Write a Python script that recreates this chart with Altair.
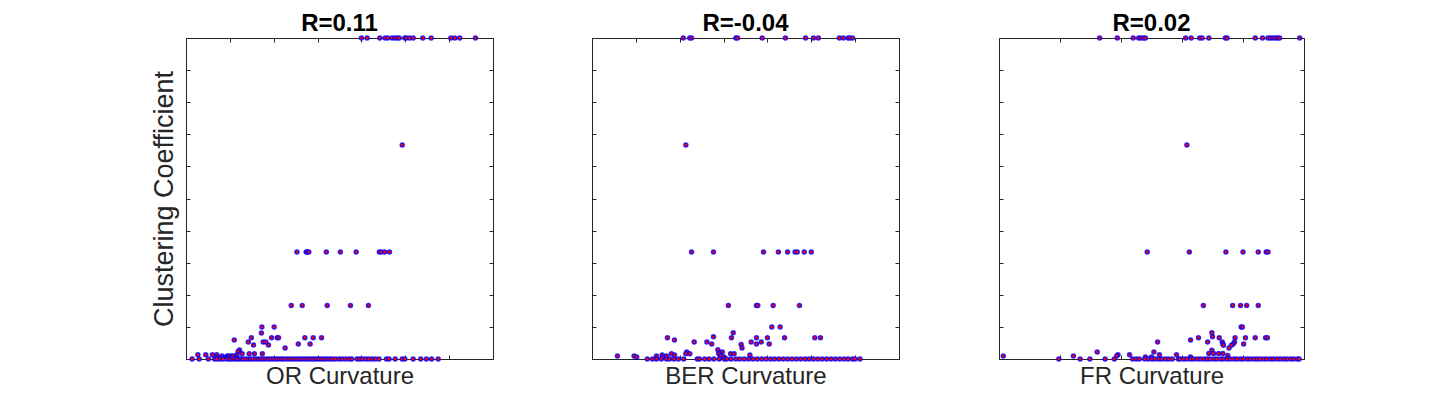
import altair as alt
import pandas as pd

FONT = "Liberation Sans"
INK = "#262626"

# ---- OR curvature panel: (clustering coefficient, [curvature values]) ----
or_groups = [
    (1.0, [4.00, 4.13, 4.42, 4.54, 4.60, 4.70, 4.76, 4.82, 4.86, 4.99, 5.02, 5.10, 5.18, 5.40, 5.59, 6.04, 6.13, 6.24, 6.60]),
    (0.667, [4.93]),
    (0.333, [2.53, 2.74, 2.77, 2.80, 3.20, 3.52, 3.88, 4.41, 4.45, 4.53, 4.64]),
    (0.167, [2.40, 2.65, 3.22, 3.75, 4.16]),
    (0.1, [1.73, 2.01]),
    (0.081, [1.72]),
    (0.066, [1.49, 1.95, 2.08, 2.11, 2.71, 2.90, 3.09]),
    (0.059, [1.10]),
    (0.053, [1.42, 1.76, 1.82]),
    (0.047, [2.56, 2.83]),
    (0.044, [1.54, 1.88]),
    (0.034, [2.26]),
    (0.028, [1.22]),
    (0.023, [1.19]),
    (0.016, [1.28, 1.44, 1.56, 1.74]),
    (0.0135, [0.27, 0.45, 0.60, 0.70, 1.16]),
    (0.009, [0.82, 0.94, 0.98, 1.04, 1.07]),
    (0.005, [0.72, 0.79, 0.88, 0.92, 1.15]),
    (0.0, [0.14, 0.30, 0.51, 0.65, 0.71, 0.78, 0.84, 0.92, 0.98, 1.03, 1.09, 1.15, 1.19, 1.25, 1.30,
           1.36, 1.42, 1.47, 1.53, 1.59, 1.65, 1.70, 1.76, 1.82, 1.88, 1.94, 2.00, 2.06, 2.12, 2.18,
           2.23, 2.30, 2.36, 2.42, 2.49, 2.55, 2.61, 2.67, 2.73, 2.79, 2.85, 2.91, 2.97, 3.03, 3.09,
           3.15, 3.21, 3.28, 3.34, 3.41, 3.49, 3.56, 3.64, 3.72, 3.78, 3.90, 3.96, 4.02, 4.10, 4.17,
           4.25, 4.32, 4.40, 4.57, 4.63, 4.77, 4.93, 4.99, 5.18, 5.35, 5.48, 5.60, 5.75]),
]

# ---- BER curvature panel ----
ber_groups = [
    (1.0, [2.08, 2.23, 2.27, 3.28, 3.32, 3.88, 4.41, 4.87, 5.05, 5.16, 5.64, 5.73, 5.84, 5.88, 5.94]),
    (0.667, [2.14]),
    (0.333, [2.27, 2.77, 3.91, 4.25, 4.46, 4.63, 4.68, 4.84, 5.00]),
    (0.167, [3.11, 3.75, 3.78, 4.13, 4.73]),
    (0.1, [4.10, 4.29]),
    (0.082, [3.22]),
    (0.069, [2.77]),
    (0.066, [1.72, 3.18, 3.75, 4.00, 4.39, 5.08, 5.21]),
    (0.059, [1.88]),
    (0.053, [2.33, 2.62, 3.63, 3.86]),
    (0.047, [2.73, 3.75, 4.04]),
    (0.045, [3.40]),
    (0.034, [3.42]),
    (0.029, [2.87]),
    (0.022, [2.16, 2.97]),
    (0.019, [2.90]),
    (0.016, [1.81, 2.14, 2.23, 2.89, 3.16, 3.24]),
    (0.0125, [1.60, 1.88, 3.60]),
    (0.009, [0.58, 0.96, 1.47, 1.70, 2.93]),
    (0.006, [1.02, 1.61, 3.01]),
    (0.0, [1.26, 1.38, 1.47, 1.58, 1.70, 1.77, 1.87, 1.97, 2.09, 2.40, 2.45, 2.57, 2.67, 2.78, 2.90,
           3.02, 3.07, 3.17, 3.28, 3.37, 3.47, 3.57, 3.67, 3.77, 3.87, 3.97, 4.07, 4.16, 4.26, 4.36,
           4.46, 4.56, 4.66, 4.76, 4.86, 4.95, 5.05, 5.15, 5.25, 5.35, 5.45, 5.55, 5.65, 5.75, 5.84,
           5.94, 6.00, 6.11]),
]

# ---- FR curvature panel ----
fr_groups = [
    (1.0, [1.65, 1.94, 2.20, 2.29, 2.33, 2.37, 2.40, 3.06, 3.15, 3.29, 3.33, 3.44, 3.71, 3.74, 4.20,
           4.32, 4.41, 4.45, 4.49, 4.53, 4.57, 4.60, 4.93]),
    (0.667, [3.08]),
    (0.333, [2.43, 3.12, 3.72, 4.00, 4.25, 4.38, 4.41]),
    (0.167, [3.35, 3.83, 3.96, 4.06, 4.25]),
    (0.1, [3.97, 3.99]),
    (0.082, [3.49]),
    (0.069, [3.50]),
    (0.066, [3.27, 3.61, 3.87, 4.04, 4.20, 4.37, 4.40]),
    (0.059, [3.14]),
    (0.053, [2.60, 3.42, 3.66, 3.86]),
    (0.047, [3.67, 3.84, 4.01]),
    (0.043, [3.68, 3.81]),
    (0.034, [3.77]),
    (0.027, [3.49]),
    (0.022, [1.61, 2.54]),
    (0.017, [3.44, 3.52, 3.60, 3.67]),
    (0.0135, [1.95, 2.14, 2.63, 2.91]),
    (0.011, [3.75]),
    (0.009, [0.07, 1.22, 1.93]),
    (0.006, [2.40, 2.50, 3.14]),
    (0.0, [0.98, 1.33, 1.49, 1.74, 1.89, 2.19, 2.25, 2.30, 2.39, 2.45, 2.51, 2.56, 2.62, 2.67, 2.73,
           2.78, 2.84, 2.94, 2.97, 3.03, 3.08, 3.14, 3.19, 3.25, 3.30, 3.36, 3.41, 3.46, 3.52, 3.57,
           3.63, 3.68, 3.74, 3.79, 3.85, 3.90, 3.96, 4.01, 4.07, 4.12, 4.18, 4.23, 4.28, 4.34, 4.39,
           4.45, 4.50, 4.56, 4.61, 4.67, 4.72, 4.78, 4.83, 4.89, 4.92]),
]

titles = ["R=0.11", "R=-0.04", "R=0.02"]
xlabels = ["OR Curvature", "BER Curvature", "FR Curvature"]
xmaxes = [7, 7, 5]
ylabel = "Clustering Coefficient"


def panel(groups, xmax, xtitle, rtitle, with_ylabel, width):
    df = pd.DataFrame([{"curv": x, "cc": cc} for cc, xs in groups for x in xs])
    xscale = alt.Scale(domain=[0, xmax], nice=False, zero=False)
    yscale = alt.Scale(domain=[0, 1], nice=False)
    xvals = list(range(0, xmax + 1))
    yvals = [i / 10 for i in range(11)]
    common = dict(labels=False, domain=False, ticks=True, tickSize=4, offset=-4,
                  tickColor=INK, tickWidth=1, grid=False)
    base = alt.Chart(df)
    if with_ylabel:
        yax = alt.Axis(orient="left", values=yvals, title=ylabel, titleFont=FONT,
                       titleFontSize=27, titleFontWeight="normal", titleColor=INK,
                       titlePadding=7, **common)
    else:
        yax = alt.Axis(orient="left", values=yvals, title=None, **common)
    guide = base.mark_point(opacity=0).encode(
        x=alt.X("curv:Q", scale=xscale,
                axis=alt.Axis(orient="bottom", values=xvals, title=xtitle, titleFont=FONT,
                              titleFontSize=24, titleFontWeight="normal", titleColor=INK,
                              titlePadding=5, **common)),
        y=alt.Y("cc:Q", scale=yscale, axis=yax),
    )
    pts = base.mark_circle(fill="red", stroke="blue", strokeWidth=1.5, size=16, opacity=1,
                           strokeOpacity=0.8).encode(
        x=alt.X("curv:Q", scale=xscale,
                axis=alt.Axis(orient="top", values=xvals, title=None, **common)),
        y=alt.Y("cc:Q", scale=yscale,
                axis=alt.Axis(orient="right", values=yvals, title=None, **common)),
    )
    return alt.layer(guide, pts).resolve_axis(x="independent", y="independent").properties(
        width=width, height=321,
        title=alt.TitleParams(rtitle, font=FONT, fontSize=24, fontWeight="bold", color="black",
                              anchor="middle", frame="group", offset=-3),
    )


panels = [
    panel(or_groups, xmaxes[0], xlabels[0], titles[0], True, 307),
    panel(ber_groups, xmaxes[1], xlabels[1], titles[1], False, 307),
    panel(fr_groups, xmaxes[2], xlabels[2], titles[2], False, 305),
]

chart = alt.hconcat(*panels, spacing=97).properties(
    padding={"left": 142, "top": 3, "right": 5, "bottom": 5},
    background="white",
).configure_view(stroke=INK, strokeWidth=1)

chart.save("out.html", embed_options={"renderer": "svg", "actions": False})
